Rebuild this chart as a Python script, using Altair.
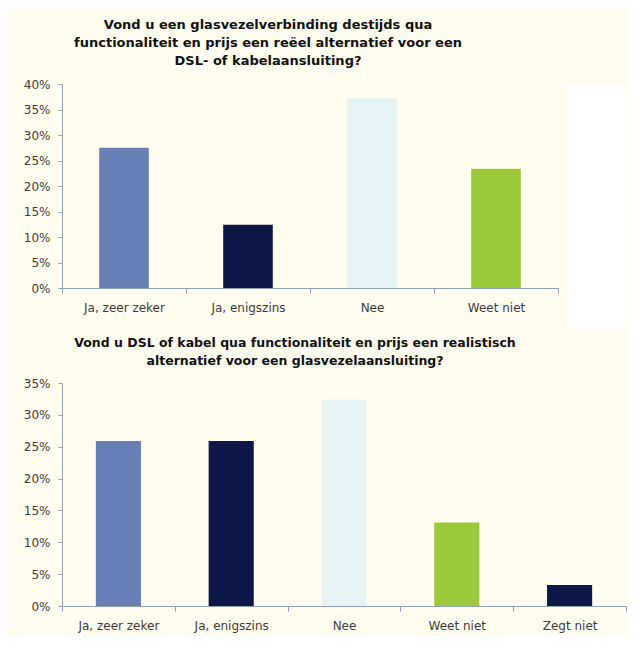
import altair as alt
import pandas as pd

# ---- data ----
top_categories = ["Ja, zeer zeker", "Ja, enigszins", "Nee", "Weet niet"]
top_values = [27.5, 12.4, 37.2, 23.4]
top_ticks = [0, 5, 10, 15, 20, 25, 30, 35, 40]
top_title = [
    "Vond u een glasvezelverbinding destijds qua",
    "functionaliteit en prijs een reëel alternatief voor een",
    "DSL- of kabelaansluiting?",
]

bottom_categories = ["Ja, zeer zeker", "Ja, enigszins", "Nee", "Weet niet", "Zegt niet"]
bottom_values = [25.9, 25.9, 32.4, 13.1, 3.3]
bottom_ticks = [0, 5, 10, 15, 20, 25, 30, 35]
bottom_title = [
    "Vond u DSL of kabel qua functionaliteit en prijs een realistisch",
    "alternatief voor een glasvezelaansluiting?",
]

palette_domain = ["Ja, zeer zeker", "Ja, enigszins", "Nee", "Weet niet", "Zegt niet"]
palette_range = ["#6880b6", "#0c1748", "#e6f3f3", "#9bc93b", "#0c1748"]

CREAM = "#fffdf0"
AXIS_COLOR = "#8fa0b3"
LABEL_COLOR = "#3c3c3c"
FONT = "DejaVu Sans"


def bar_chart(cats, vals, ticks, ymax, title, width, height, dx, title_size):
    df = pd.DataFrame({"cat": cats, "val": vals})
    bars = alt.Chart(df).mark_bar(width=alt.RelativeBandSize(0.4)).encode(
        x=alt.X(
            "cat:N",
            sort=cats,
            title=None,
            scale=alt.Scale(paddingInner=0, paddingOuter=0),
            axis=alt.Axis(
                labelAngle=0,
                tickBand="extent",
                tickSize=5,
                labelPadding=9,
                domainColor=AXIS_COLOR,
                tickColor=AXIS_COLOR,
                labelFont=FONT,
                labelFontSize=12,
                labelColor=LABEL_COLOR,
            ),
        ),
        y=alt.Y(
            "val:Q",
            title=None,
            scale=alt.Scale(domain=[0, ymax], nice=False),
            axis=alt.Axis(
                values=ticks,
                labelExpr="datum.value + '%'",
                grid=False,
                tickSize=4,
                labelPadding=8,
                domainColor=AXIS_COLOR,
                tickColor=AXIS_COLOR,
                labelFont=FONT,
                labelFontSize=12,
                labelColor=LABEL_COLOR,
            ),
        ),
        color=alt.Color(
            "cat:N",
            scale=alt.Scale(domain=palette_domain, range=palette_range),
            legend=None,
        ),
    )
    return bars.properties(
        width=width,
        height=height,
        title=alt.TitleParams(
            text=title,
            anchor="middle",
            frame="group",
            dx=dx,
            offset=10,
            font=FONT,
            fontSize=title_size,
            fontWeight="bold",
            lineHeight=18,
            color="#111111",
        ),
    )


top = bar_chart(top_categories, top_values, top_ticks, 40, top_title, 496, 204, -42, 13)
# white corner to the right of the upper chart
corner = alt.Chart(alt.Data(values=[{}])).mark_rect(color="white").encode(
    x=alt.value(506), x2=alt.value(564), y=alt.value(0), y2=alt.value(245)
)
top_layer = alt.layer(corner, top)

bottom = bar_chart(bottom_categories, bottom_values, bottom_ticks, 35, bottom_title, 564, 223, -49, 12.5)

chart = (
    alt.vconcat(top_layer, bottom, spacing=7)
    .resolve_scale(x="independent", y="independent", color="independent")
    .properties(background=CREAM, padding={"left": 15, "top": 11, "right": 0, "bottom": 5})
    .configure_view(stroke=None)
)

chart.save("out.html", embed_options={"renderer": "svg", "actions": False})
